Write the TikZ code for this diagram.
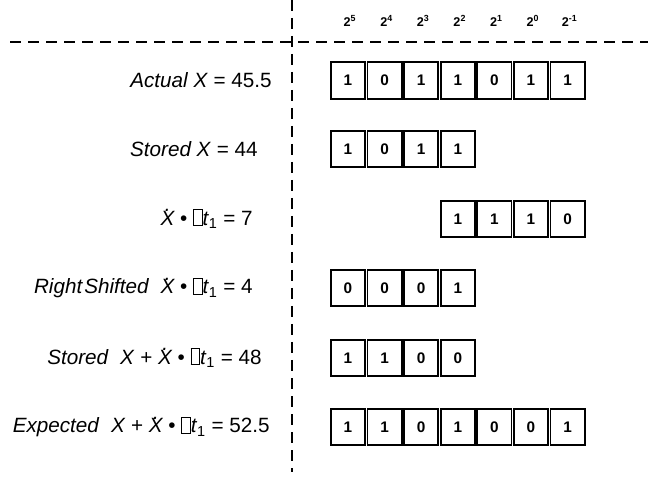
\documentclass[tikz,border=0pt]{standalone}
\usepackage{fontspec}
\setmainfont{Liberation Sans}
\usetikzlibrary{positioning}

% X with a dot on top, and the box that stands for the missing glyph
\newcommand{\xdot}{\textit{X\kern-0.47em\raisebox{0.66em}{.}\kern0.19em}}
\newcommand{\gapbox}{{\setlength{\fboxsep}{0pt}\setlength{\fboxrule}{0.4pt}\fbox{\rule{0pt}{0.74em}\hspace{0.4em}}}}
\newcommand{\dt}{\gapbox\textit{t}\textsubscript{1}}

\tikzset{
  bit/.style={draw, line width=1.4pt, minimum width=25.6pt, minimum height=27.5pt,
    inner sep=0pt, font=\fontsize{11.5}{13}\selectfont\bfseries},
  weight/.style={font=\fontsize{9.5}{11}\selectfont\bfseries},
  lbl/.style={anchor=east, inner sep=0pt, font=\fontsize{15.5}{18}\selectfont},
  divider/.style={line width=1.9pt, dash pattern=on 8pt off 5.5pt}
}

\begin{document}
\begin{tikzpicture}[x=0.75pt,y=-0.75pt]
    \useasboundingbox (0,0) rectangle (654,481);

    % dashed axes
    \coordinate (vtop) at (292,0);
    \coordinate (vbot) at (292,472);
    \coordinate (hleft) at (10,42);
    \coordinate (hright) at (648,42);
    \draw[divider] (vtop) -- (vbot);
    \draw[divider] (hleft) -- (hright);

    % bit weights
    \foreach \i/\e in {0/5,1/4,2/3,3/2,4/1,5/0,6/-1}
    {
        \node[weight] (w\i) at (350+36.6*\i,21) {2\textsuperscript{\e}};
    }

    % registers
    \foreach \r/\y/\s/\bits in {1/80.5/0/{1,0,1,1,0,1,1}, 2/149/0/{1,0,1,1},
                                3/219/3/{1,1,1,0}, 4/288/0/{0,0,0,1},
                                5/358/0/{1,1,0,0}, 6/427/0/{1,1,0,1,0,0,1}}
    {
        \foreach \b [count=\k from \s] in \bits
            \node[bit] (r\r b\k) at (348+36.6*\k,\y) {\b};
    }

    % row labels
    \node[lbl] (l1) at (272,80.5) {\textit{Actual X} = 45.5};
    \node[lbl] (l2) at (258,149) {\textit{Stored X} = 44};
    \node[lbl] (l3) at (253,219) {\xdot{} \textbullet{} \dt{} = 7};
    \node[lbl] (l4) at (253,288) {\textit{Right\hspace{0.1em}Shifted}\ \ \xdot{} \textbullet{} \dt{} = 4};
    \node[lbl] (l5) at (262,358) {\textit{Stored}\ \ \textit{X} + \xdot{} \textbullet{} \dt{} = 48};
    \node[lbl] (l6) at (270,427) {\textit{Expected}\ \ \textit{X} + \xdot{} \textbullet{} \dt{} = 52.5};
\end{tikzpicture}
\end{document}
